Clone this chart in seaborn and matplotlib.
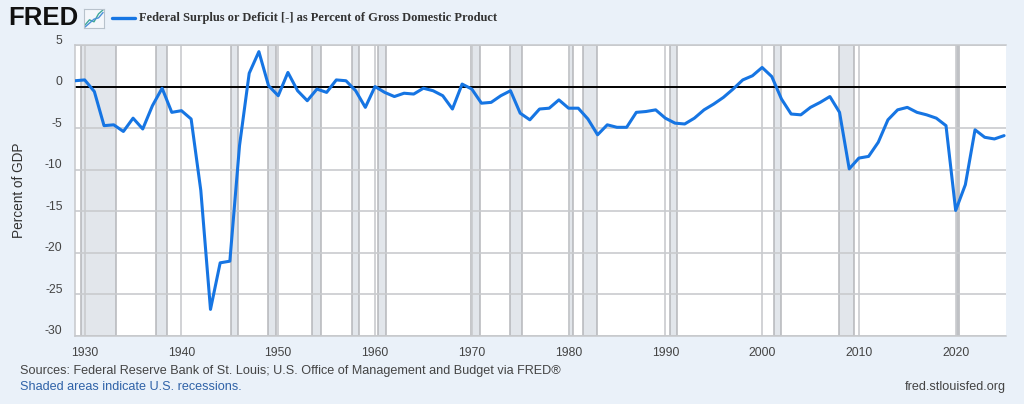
import numpy as np
import pandas as pd
import matplotlib
matplotlib.use("Agg")
import matplotlib.pyplot as plt
import matplotlib.transforms as mtransforms
import seaborn as sns

# annual federal surplus (+) / deficit (-) as % of GDP
years = list(range(1929, 2026))
values = [
    0.7, 0.8, -0.6, -4.7, -4.6, -5.4, -3.8, -5.1, -2.3, -0.2,   # 1929-1938
    -3.1, -2.9, -3.9, -12.5, -26.8, -21.2, -21.0, -7.1, 1.6, 4.2,  # 1939-1948
    0.1, -1.1, 1.7, -0.5, -1.7, -0.3, -0.7, 0.8, 0.7, -0.5,   # 1949-1958
    -2.5, 0.0, -0.7, -1.2, -0.8, -0.9, -0.2, -0.5, -1.1, -2.7,  # 1959-1968
    0.3, -0.3, -2.0, -1.9, -1.1, -0.5, -3.2, -4.0, -2.7, -2.6,  # 1969-1978
    -1.6, -2.6, -2.6, -3.9, -5.8, -4.6, -4.9, -4.9, -3.1, -3.0,  # 1979-1988
    -2.8, -3.8, -4.4, -4.5, -3.8, -2.8, -2.1, -1.3, -0.3, 0.8,  # 1989-1998
    1.3, 2.3, 1.2, -1.5, -3.3, -3.4, -2.5, -1.9, -1.2, -3.1,   # 1999-2008
    -9.9, -8.6, -8.4, -6.7, -4.0, -2.8, -2.5, -3.1, -3.4, -3.8,  # 2009-2018
    -4.7, -14.9, -11.8, -5.2, -6.1, -6.3, -5.9,                 # 2019-2025
]

# NBER recessions as decimal years (start, end)
recessions = [
    (1929.6, 1933.2), (1937.4, 1938.5), (1945.1, 1945.8), (1948.9, 1949.8),
    (1953.5, 1954.4), (1957.6, 1958.3), (1960.3, 1961.1), (1969.9, 1970.9),
    (1973.9, 1975.2), (1980.0, 1980.5), (1981.5, 1982.9), (1990.5, 1991.2),
    (2001.2, 2001.9), (2007.9, 2009.5), (2020.1, 2020.3),
]

y_ticks = [5, 0, -5, -10, -15, -20, -25, -30]
x_ticks = list(range(1930, 2030, 10))

title = "Federal Surplus or Deficit [-] as Percent of Gross Domestic Product"
y_label = "Percent of GDP"
source_text = ("Sources: Federal Reserve Bank of St. Louis; "
               "U.S. Office of Management and Budget via FRED\u00ae")
shade_text = "Shaded areas indicate U.S. recessions."
site_text = "fred.stlouisfed.org"

bg = "#eaf1f9"
line_color = "#1675e3"
grid_color = "#c9cbce"
text_color = "#444444"

sns.set_style("white")
plt.rcParams["font.family"] = ["Liberation Sans", "DejaVu Sans"]

fig = plt.figure(figsize=(10.24, 4.04), dpi=100, facecolor=bg)
ax = fig.add_axes([75 / 1024, 68 / 404, 931 / 1024, 291 / 404])
ax.set_facecolor("white")

df = pd.DataFrame({"year": years, "value": values})

for start, end in recessions:
    ax.axvspan(start, end, facecolor="#e2e6eb", edgecolor="#b5b7ba",
               linewidth=1.1, zorder=0.5)

ax.axhline(0, color="black", lw=1.4, zorder=2)
sns.lineplot(data=df, x="year", y="value", ax=ax, color=line_color,
             lw=2.2, zorder=3, legend=False)

ax.set_xlim(1929, 2025.2)
ax.set_ylim(-30, 5)
ax.set_yticks(y_ticks)
ax.set_yticklabels([str(t) for t in y_ticks])
ax.set_xticks(x_ticks)
ax.set_xticklabels([str(t) for t in x_ticks])
ax.grid(True, color=grid_color, lw=1.2, zorder=0.4)
ax.set_axisbelow(True)

ax.tick_params(axis="y", length=0, pad=9, labelsize=8.8, labelcolor=text_color)
ax.tick_params(axis="x", length=5, width=1, color="#c0c4c8", pad=3,
               labelsize=8.8, labelcolor=text_color)

# FRED puts y tick labels just above the gridlines
offset = mtransforms.ScaledTranslation(0, 0.06, fig.dpi_scale_trans)
for lab in ax.get_yticklabels():
    lab.set_transform(lab.get_transform() + offset)

for side in ["top", "left", "bottom"]:
    ax.spines[side].set_color("#c6c8cb")
    ax.spines[side].set_linewidth(1.1)
ax.spines["right"].set_visible(False)

ax.set_xlabel("")
ax.set_ylabel(y_label, fontsize=9.8, color="#333333")
ax.yaxis.set_label_coords(-49 / 931, 0.5)

# header: logo, legend line and title
fig.text(8 / 1024, 1 - 18 / 404, "FRED", fontsize=18.5, fontweight="bold",
         color="#111111", va="center", ha="left")
icon = fig.add_axes([84 / 1024, 1 - 28 / 404, 20 / 1024, 19 / 404])
icon.set_facecolor("#f4f7fb")
icon.plot([0, 1, 2, 3, 4], [0.5, 1.3, 1.0, 2.2, 2.8], color="#3fa89a", lw=1)
icon.plot([0, 1, 2, 3, 4], [0.2, 0.8, 1.4, 1.6, 2.4], color="#4a90d9", lw=1)
icon.set_xticks([])
icon.set_yticks([])
for s in icon.spines.values():
    s.set_color("#b8c2cc")
    s.set_linewidth(0.8)

fig.add_artist(plt.Line2D([112 / 1024, 135 / 1024], [1 - 18 / 404, 1 - 18 / 404],
                          color=line_color, lw=2.4))
fig.text(139 / 1024, 1 - 18 / 404, title, fontsize=9.0, fontweight="bold",
         color="#333333", va="center", ha="left", family=["Liberation Serif"])

# footer
fig.text(20 / 1024, 1 - 371 / 404, source_text, fontsize=9.1, color=text_color,
         va="center", ha="left")
fig.text(20 / 1024, 1 - 387 / 404, shade_text, fontsize=9.1, color="#2f62a8",
         va="center", ha="left")
fig.text(1006 / 1024, 1 - 387 / 404, site_text, fontsize=9.1, color=text_color,
         va="center", ha="right")

fig.savefig("out.png", dpi=100, facecolor=bg)
